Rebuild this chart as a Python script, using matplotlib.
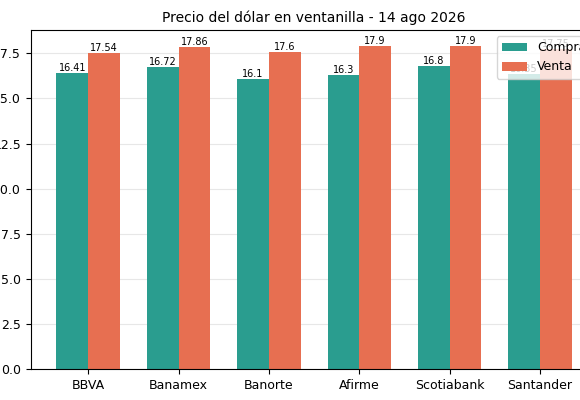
import matplotlib
matplotlib.use("Agg")
import matplotlib.pyplot as plt
import numpy as np

banks = ["BBVA", "Banamex", "Banorte", "Afirme", "Scotiabank", "Santander"]
compra = [16.41, 16.72, 16.1, 16.3, 16.8, 16.35]
venta = [17.54, 17.86, 17.6, 17.9, 17.9, 17.75]

fig = plt.figure(figsize=(5.8, 4.0), dpi=100)
ax = fig.add_axes([0.053, 0.0775, 0.977, 0.8475])
x = np.arange(len(banks))
w = 0.35
b1 = ax.bar(x - w/2, compra, w, color="#2a9d8f", label="Compra")
b2 = ax.bar(x + w/2, venta, w, color="#e76f51", label="Venta")
for bars, vals in ((b1, compra), (b2, venta)):
    for r, v in zip(bars, vals):
        ax.text(r.get_x() + r.get_width()/2, v, f"{v:g}", ha="center", va="bottom", fontsize=7)
ax.set_xticks(x)
ax.set_xticklabels(banks, fontsize=9)
ax.tick_params(axis="y", labelsize=9)
ax.grid(axis="y", alpha=0.3)
ax.set_axisbelow(True)
ax.set_title("Precio del dólar en ventanilla - 14 ago 2026", fontsize=10)
ax.legend(loc="upper right", fontsize=9)
fig.savefig("out.png", dpi=100)
